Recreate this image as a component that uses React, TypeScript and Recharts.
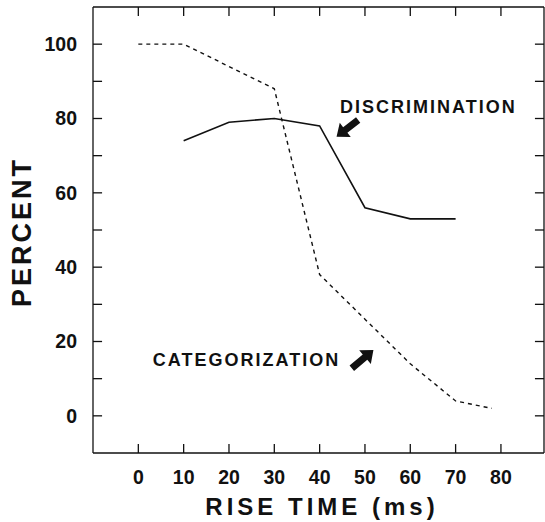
import { LineChart, Line, XAxis, YAxis, ReferenceDot, ReferenceLine } from 'recharts';

// categorization curve (dashed)
const catTimes = [0, 10, 20, 30, 40, 50, 60, 70, 78];
const catPercent = [100, 100, 94, 88, 38, 26, 14, 4, 2];

// discrimination curve (solid)
const discTimes = [10, 20, 30, 40, 50, 60, 70];
const discPercent = [74, 79, 80, 78, 56, 53, 53];

const xTicks = [0, 10, 20, 30, 40, 50, 60, 70, 80];
const yTicks = [0, 10, 20, 30, 40, 50, 60, 70, 80, 90, 100];
const yLabels = [0, 20, 40, 60, 80, 100];

const categorization = catTimes.map((x, i) => ({ x, y: catPercent[i] }));
const discrimination = discTimes.map((x, i) => ({ x, y: discPercent[i] }));

const X_DOMAIN: [number, number] = [-10, 89.5];
const Y_DOMAIN: [number, number] = [-10, 110];
// inward tick length (~9px) expressed in axis units
const X_TICK_LEN = 2.0;
const Y_TICK_LEN = 2.4;

const INK = '#111';
const FONT = '"Liberation Sans", Arial, Helvetica, sans-serif';
const TICK = -9;

const axisLine = { stroke: INK, strokeWidth: 1.3 };
const tickFont = { fill: INK, fontFamily: FONT, fontWeight: 'bold', fontSize: 19.5 } as any;
const blank = () => '';

// thick filled arrow from tail (cx, cy) to tail + (dx, dy)
function arrowShape(dx: number, dy: number) {
  return (props: any) => {
    const { cx, cy } = props;
    const len = Math.hypot(dx, dy);
    const ux = dx / len;
    const uy = dy / len;
    const nx = -uy;
    const ny = ux;
    const headLen = 11;
    const shaft = 3.5;
    const head = 9;
    const bx = cx + ux * (len - headLen);
    const by = cy + uy * (len - headLen);
    const pts = [
      [cx + nx * shaft, cy + ny * shaft],
      [bx + nx * shaft, by + ny * shaft],
      [bx + nx * head, by + ny * head],
      [cx + dx, cy + dy],
      [bx - nx * head, by - ny * head],
      [bx - nx * shaft, by - ny * shaft],
      [cx - nx * shaft, cy - ny * shaft],
    ];
    return <polygon points={pts.map((p) => p.join(',')).join(' ')} fill={INK} />;
  };
}

function labelShape(text: string) {
  return (props: any) => (
    <text x={props.cx} y={props.cy} dy="0.35em" fontFamily={FONT} fontWeight="bold" fontSize={18} letterSpacing={2} fill={INK}>
      {text}
    </text>
  );
}

export default function App() {
  return (
    <div style={{ position: 'absolute', left: 0, top: 0, background: '#fff' }}>
      <LineChart width={545} height={522} margin={{ top: 6, right: 0, bottom: 0, left: 0 }}>
        <XAxis
          dataKey="x"
          type="number"
          domain={X_DOMAIN}
          ticks={xTicks}
          interval={0}
          allowDataOverflow
          height={69}
          tickSize={TICK}
          tickMargin={26}
          tickLine={false}
          axisLine={axisLine}
          tick={tickFont}
        />
        <XAxis
          xAxisId="top"
          orientation="top"
          dataKey="x"
          type="number"
          domain={X_DOMAIN}
          ticks={xTicks}
          interval={0}
          allowDataOverflow
          height={1}
          tickLine={false}
          axisLine={axisLine}
          tickFormatter={blank}
        />
        <YAxis
          type="number"
          domain={Y_DOMAIN}
          ticks={yTicks}
          interval={0}
          allowDataOverflow
          width={93}
          tickSize={TICK}
          tickMargin={25}
          tickLine={false}
          axisLine={axisLine}
          tick={tickFont}
          tickFormatter={(v: number) => (yLabels.includes(v) ? String(v) : '')}
        />
        <YAxis
          yAxisId="right"
          orientation="right"
          type="number"
          domain={Y_DOMAIN}
          ticks={yTicks}
          interval={0}
          allowDataOverflow
          width={1}
          tickLine={false}
          axisLine={axisLine}
          tickFormatter={blank}
        />
        {xTicks.map((t) => (
          <ReferenceLine
            key={`b${t}`}
            segment={[{ x: t, y: Y_DOMAIN[0] }, { x: t, y: Y_DOMAIN[0] + Y_TICK_LEN }]}
            stroke={INK}
            strokeWidth={1.3}
            ifOverflow="visible"
          />
        ))}
        {xTicks.map((t) => (
          <ReferenceLine
            key={`t${t}`}
            segment={[{ x: t, y: Y_DOMAIN[1] }, { x: t, y: Y_DOMAIN[1] - Y_TICK_LEN }]}
            stroke={INK}
            strokeWidth={1.3}
            ifOverflow="visible"
          />
        ))}
        {yTicks.map((t) => (
          <ReferenceLine
            key={`l${t}`}
            segment={[{ x: X_DOMAIN[0], y: t }, { x: X_DOMAIN[0] + X_TICK_LEN, y: t }]}
            stroke={INK}
            strokeWidth={1.3}
            ifOverflow="visible"
          />
        ))}
        {yTicks.map((t) => (
          <ReferenceLine
            key={`r${t}`}
            segment={[{ x: X_DOMAIN[1], y: t }, { x: X_DOMAIN[1] - X_TICK_LEN, y: t }]}
            stroke={INK}
            strokeWidth={1.3}
            ifOverflow="visible"
          />
        ))}
        <Line
          data={categorization}
          dataKey="y"
          type="linear"
          stroke={INK}
          strokeWidth={1.4}
          strokeDasharray="4 4"
          dot={false}
          isAnimationActive={false}
        />
        <Line
          data={discrimination}
          dataKey="y"
          type="linear"
          stroke={INK}
          strokeWidth={1.6}
          dot={false}
          isAnimationActive={false}
        />
        <ReferenceDot x={44.5} y={83.1} r={0} shape={labelShape('DISCRIMINATION')} />
        <ReferenceDot x={3.2} y={15} r={0} shape={labelShape('CATEGORIZATION')} />
        <ReferenceDot x={48.5} y={79.6} r={0} shape={arrowShape(-21.6, 16.7)} />
        <ReferenceDot x={47.1} y={12.8} r={0} shape={arrowShape(21.6, -18.3)} />
      </LineChart>
      <svg width={545} height={522} style={{ position: 'absolute', left: 0, top: 0, pointerEvents: 'none' }}>
        <text
          transform="translate(22,232) rotate(-90)"
          textAnchor="middle"
          dy="0.35em"
          fontFamily={FONT}
          fontWeight="bold"
          fontSize={27}
          letterSpacing={3}
          fill={INK}
        >
          PERCENT
        </text>
        <text x={322} y={507} textAnchor="middle" dy="0.35em" fontFamily={FONT} fontWeight="bold" fontSize={24} letterSpacing={4} fill={INK}>
          RISE TIME (ms)
        </text>
      </svg>
    </div>
  );
}
